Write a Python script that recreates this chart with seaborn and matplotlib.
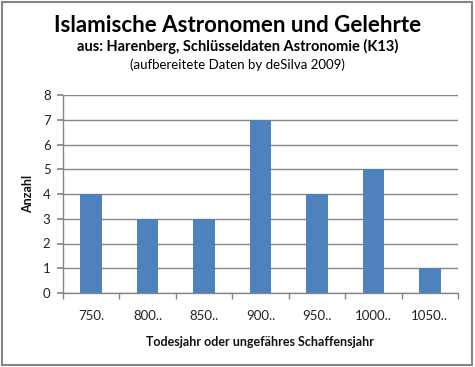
import matplotlib
matplotlib.use("Agg")
import matplotlib.pyplot as plt
import seaborn as sns
import pandas as pd
import numpy as np

categories = ["750.", "800..", "850..", "900..", "950..", "1000..", "1050.."]
values = [4, 3, 3, 7, 4, 5, 1]

sns.set_theme(style="white")
plt.rcParams['font.family'] = ['Lato', 'DejaVu Sans']

df = pd.DataFrame({"Periode": categories, "Anzahl": values})

fig = plt.figure(figsize=(4.75, 3.67), dpi=100)
ax = fig.add_axes([63/475, 1-293/367, (458-63)/475, (293-95)/367])

sns.barplot(data=df, x="Periode", y="Anzahl", color="#4F81BD", width=0.38,
            saturation=1, ax=ax, zorder=3, linewidth=0)

ax.set_ylim(0, 8)
ax.set_xlim(-0.5, len(categories)-0.5)
ax.set_yticks(range(0, 9))
ax.yaxis.grid(True, color="#868686", linewidth=1, zorder=0)
ax.set_axisbelow(True)
for s in ["top", "right"]:
    ax.spines[s].set_visible(False)
for s in ["left", "bottom"]:
    ax.spines[s].set_color("#868686")
    ax.spines[s].set_linewidth(1)

ax.tick_params(axis="y", length=4, color="#868686", labelsize=9.5, pad=5, labelcolor="#222222", left=True, direction="out")
ax.tick_params(axis="x", length=0, labelsize=9.5, pad=12, labelcolor="#222222")
ax.set_xticks(range(len(categories)))
ax.set_xticklabels(categories)
ax.set_xticks(np.arange(-0.5, len(categories), 1), minor=True)
ax.tick_params(axis="x", which="minor", length=4, color="#868686", direction="out", bottom=True)

ax.set_xlabel("Todesjahr oder ungefähres Schaffensjahr", fontsize=9, fontweight="bold", labelpad=10, color="#111111")
ax.set_ylabel("Anzahl", fontsize=9, fontweight="bold", labelpad=6, color="#111111")

fig.text(0.5, 1-26/367, "Islamische Astronomen und Gelehrte", ha="center", va="center",
         fontsize=16, fontweight="bold", color="black")
fig.text(0.5, 1-46/367, "aus: Harenberg, Schlüsseldaten Astronomie (K13)", ha="center", va="center",
         fontsize=10.5, fontweight="bold", color="black")
fig.text(0.5, 1-65/367, "(aufbereitete Daten by deSilva 2009)", ha="center", va="center",
         fontsize=9.5, color="black")

border = plt.Rectangle((2/475, 2/367), 1-5/475, 1-4/367, transform=fig.transFigure,
                       fill=False, edgecolor="#868686", linewidth=1.5)
fig.patches.append(border)

fig.savefig("out.png", dpi=100)
